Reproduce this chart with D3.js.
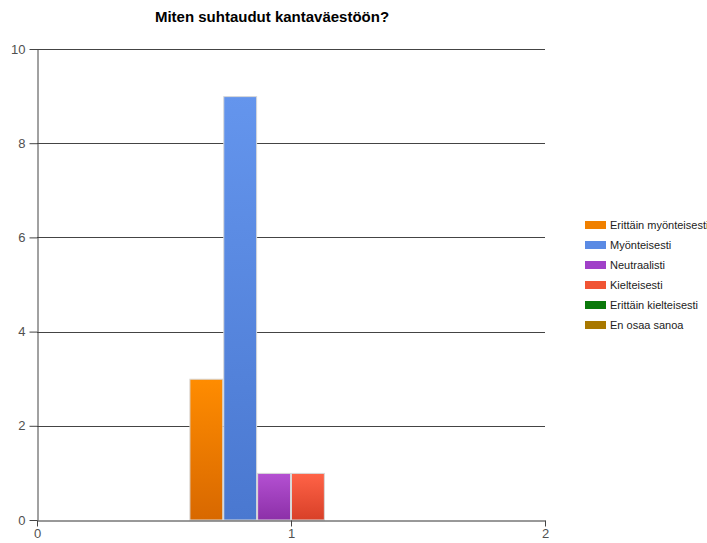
<!DOCTYPE html>
<html><head><meta charset="utf-8">
<script src="https://cdn.jsdelivr.net/npm/d3@7"></script>
<style>body{margin:0;background:#fff}svg{display:block}</style>
</head><body>
<svg id="c" width="707" height="543"></svg>
<script>
const title = "Miten suhtaudut kantaväestöön?";
const categories = [1];
const seriesNames = ["Erittäin myönteisesti","Myönteisesti","Neutraalisti","Kielteisesti","Erittäin kielteisesti","En osaa sanoa"];
const seriesValues = [[3],[9],[1],[1],[0],[0]];
const yTicks = [0,2,4,6,8,10];
const xTicks = [0,1,2];
const colorsTop = ["#ff8c00","#6495ed","#b450d2","#ff6347","#108010","#b08000"];
const colorsBottom = ["#d86800","#4a78d0","#8c30a8","#d84028","#006000","#8a6000"];
const legendColors = ["#f08000","#5a8ae4","#a040c8","#f05434","#0a780a","#a87800"];

(function(){
const svg = d3.select("#c");
const mLeft = 37, mRight = 545, mTop = 49, mBottom = 520;
const x = d3.scaleLinear().domain([0,2]).range([mLeft,mRight]);
const y = d3.scaleLinear().domain([0,10]).range([mBottom,mTop]);
const groupW = (x(1)-x(0))*0.8;
const inner = d3.scaleBand().domain(d3.range(seriesNames.length)).range([-groupW/2, groupW/2]);
const font = "Liberation Sans, Arial, sans-serif";

const defs = svg.append("defs");
seriesNames.forEach((s,i)=>{
  const g = defs.append("linearGradient").attr("id","g"+i).attr("x1",0).attr("y1",0).attr("x2",0).attr("y2",1);
  g.append("stop").attr("offset","0%").attr("stop-color",colorsTop[i]);
  g.append("stop").attr("offset","100%").attr("stop-color",colorsBottom[i]);
});

svg.append("text").attr("x",272).attr("y",22).attr("text-anchor","middle")
  .attr("font-family",font).attr("font-weight","bold").attr("font-size",15)
  .attr("fill","#000").text(title);

svg.append("g").selectAll("line").data(yTicks.filter(d=>d>0)).join("line")
  .attr("x1",mLeft).attr("x2",mRight).attr("y1",d=>Math.round(y(d))+0.5).attr("y2",d=>Math.round(y(d))+0.5)
  .attr("stroke","#444").attr("stroke-width",1);

seriesNames.forEach((s,i)=>{
  svg.append("g").selectAll("rect").data(categories.map((c,j)=>({c,v:seriesValues[i][j]})).filter(d=>d.v>0)).join("rect")
    .attr("x",d=>x(d.c)+inner(i)+0.5).attr("width",inner.bandwidth()-1)
    .attr("y",d=>y(d.v)+0.5).attr("height",d=>y(0)-y(d.v)-0.5)
    .attr("fill","url(#g"+i+")").attr("stroke","#d8d8d8").attr("stroke-width",1);
});

const yAxis = d3.axisLeft(y).tickValues(yTicks).tickFormat(d3.format("d")).tickSize(8).tickSizeOuter(0).tickPadding(4);
const ya = svg.append("g").attr("transform",`translate(${mLeft+0.5},0)`).call(yAxis);
ya.select(".domain").attr("stroke","#444");
ya.selectAll(".tick line").attr("stroke","#444");
ya.selectAll("text").attr("font-family",font).attr("font-size",13).attr("fill","#505050");

const xAxis = d3.axisBottom(x).tickValues(xTicks).tickFormat(d3.format("d")).tickSize(6).tickSizeOuter(0).tickPadding(2);
const xa = svg.append("g").attr("transform",`translate(0,${mBottom+0.5})`).call(xAxis);
xa.select(".domain").attr("stroke","#333");
xa.selectAll(".tick line").attr("stroke","#444");
xa.selectAll("text").attr("font-family",font).attr("font-size",13).attr("fill","#505050");

const lg = svg.append("g").attr("transform","translate(585,225)");
const items = lg.selectAll("g").data(seriesNames).join("g").attr("transform",(d,i)=>`translate(0,${i*20})`);
items.append("rect").attr("x",0).attr("y",-4).attr("width",21).attr("height",8).attr("fill",(d,i)=>legendColors[i]);
items.append("text").attr("x",25).attr("y",4).attr("font-family",font)
  .attr("font-size",11).attr("fill","#222").text(d=>d);
})();
</script>
</body></html>
